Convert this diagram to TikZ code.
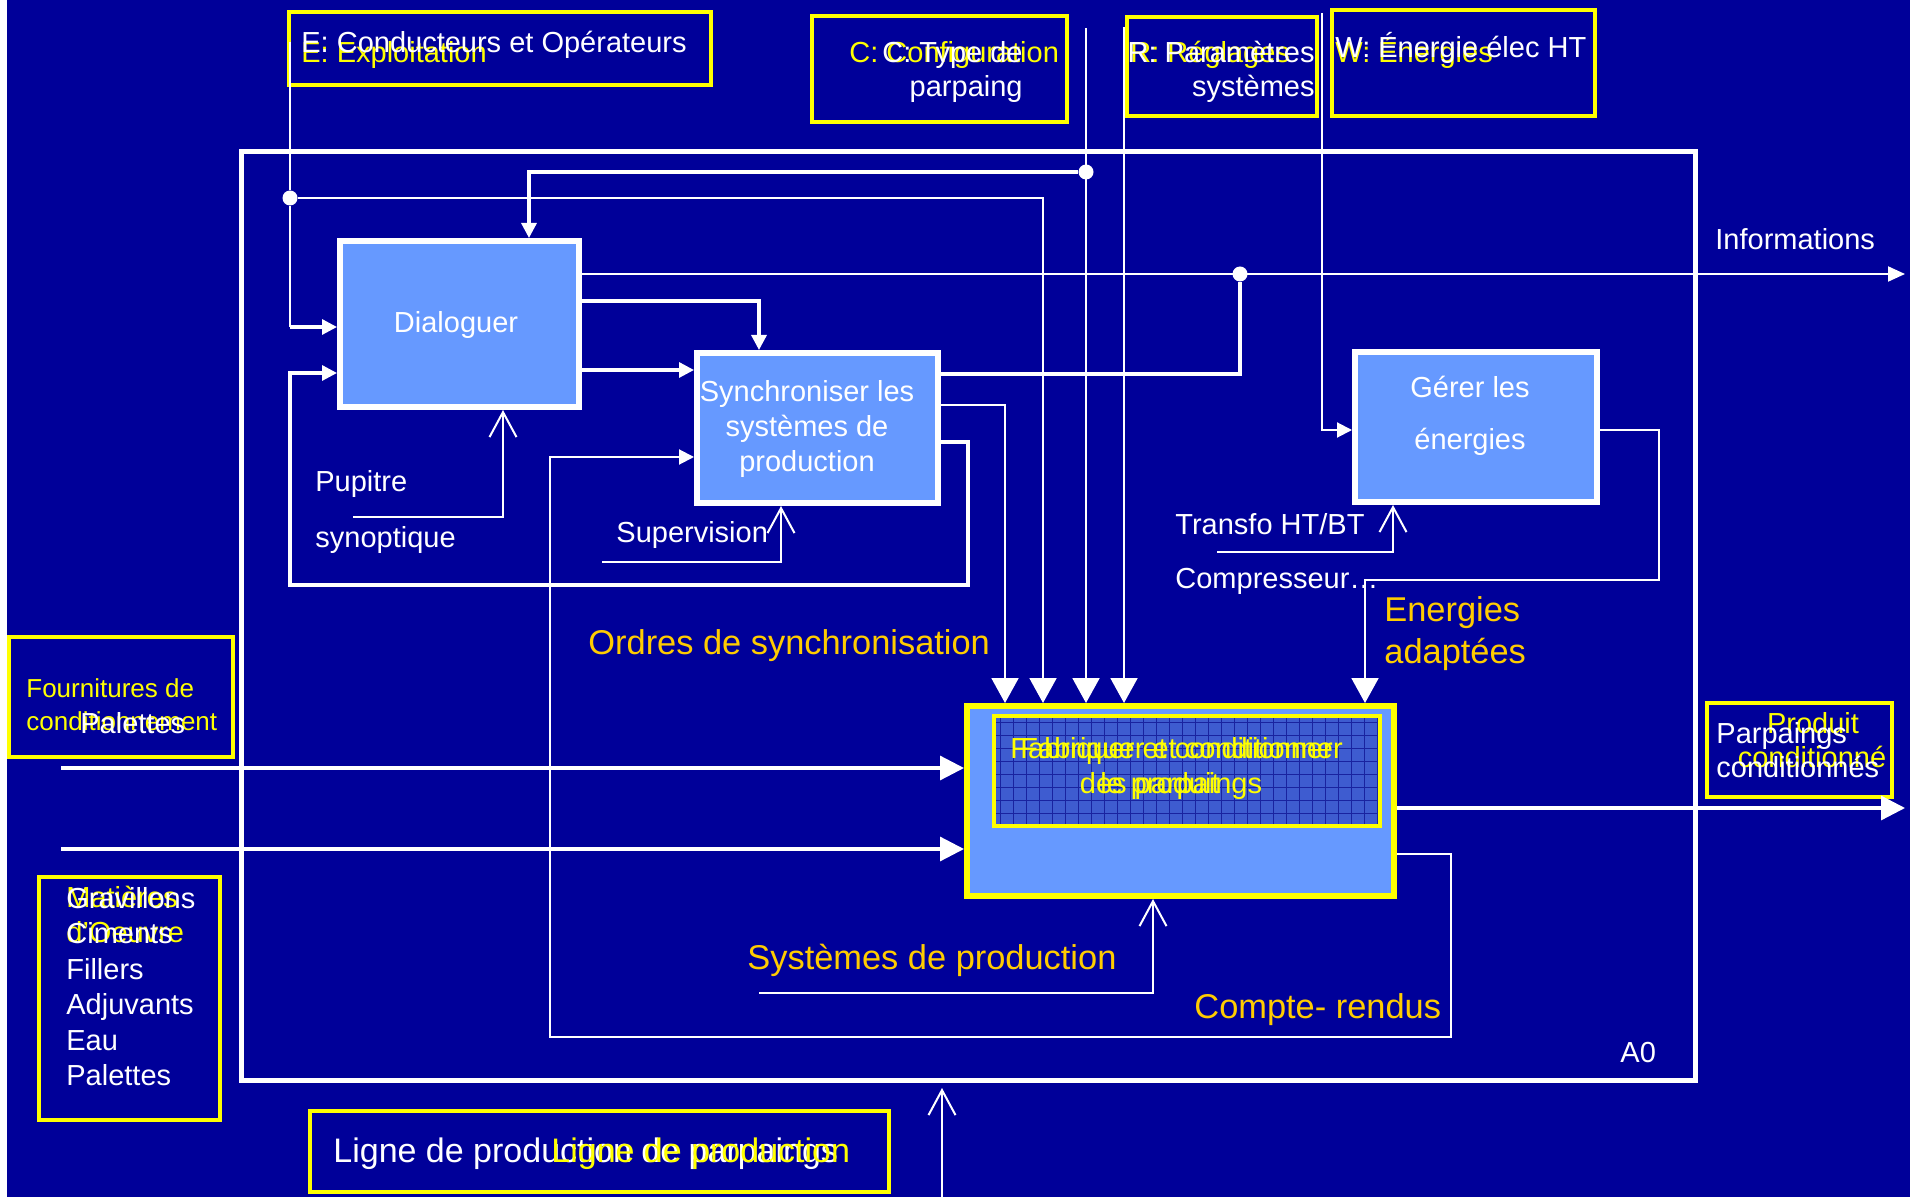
\documentclass[tikz,border=0pt]{standalone}
\usepackage{fontspec}
\setmainfont{Liberation Sans}
\usetikzlibrary{arrows.meta,fit}
\definecolor{bgblue}{RGB}{0,0,153}
\definecolor{boxblue}{RGB}{102,153,255}
\definecolor{tagyellow}{RGB}{255,255,0}
\definecolor{flowamber}{RGB}{255,204,0}
\definecolor{meshfill}{RGB}{62,92,208}
\definecolor{meshline}{RGB}{25,35,160}

\begin{document}
\begin{tikzpicture}[x=0.5pt,y=-0.5pt,
  every node/.style={inner sep=0pt},
  proc/.style={draw=white,line width=3pt,fill=boxblue,inner sep=0pt},
  tagbox/.style={draw=tagyellow,line width=2pt,inner sep=0pt},
  lab/.style={anchor=base west,font=\fontsize{14.5}{17}\selectfont},
  wl/.style={lab,text=white},
  yl/.style={lab,text=tagyellow},
  ol/.style={anchor=base west,font=\fontsize{17.2}{20}\selectfont,text=flowamber},
  wire/.style={draw=white,line width=1pt},
  bus/.style={draw=white,line width=1.6pt},
  junction/.style={circle,fill=white,minimum size=7.5pt,inner sep=0pt},
  tipS/.style={-{Triangle[length=7.5pt,width=7.5pt]}},
  tipC/.style={-{Triangle[length=12.5pt,width=13.5pt]}},
  tipI/.style={-{Triangle[length=12pt,width=12pt]}},
  tipO/.style={-{Triangle[length=8.5pt,width=7.5pt]}},
  tipM/.style={-{Straight Barb[length=12.5pt,width=13.5pt]}},
]
% page
\fill[bgblue] (0,0) rectangle (1910,1197);
\fill[white] (0,0) rectangle (7,1197);
\useasboundingbox (0,0) rectangle (1910,1197);

% A0 frame
\node[fit={(241,152) (1695,1080)},draw=white,line width=2.5pt] (frame) {};

% activities
\node[proc,fit={(340,241) (579,407)}] (dlg) {};
\node[proc,fit={(697,353) (938,503)}] (syn) {};
\node[proc,fit={(1355,352) (1597,502)}] (ger) {};
\node[fit={(967,706) (1394,896)},draw=tagyellow,line width=3pt,fill=boxblue] (fab) {};
\begin{scope}
  \clip (994,716) rectangle (1380,826);
  \fill[meshfill] (994,716) rectangle (1380,826);
  \foreach \gx in {1000,1013,...,1380} \draw[meshline,line width=0.35pt] (\gx,716) -- (\gx,826);
  \foreach \gy in {722,735,...,826} \draw[meshline,line width=0.35pt] (994,\gy) -- (1380,\gy);
\end{scope}
\node[fit={(994,716) (1380,826)},draw=tagyellow,line width=2pt] (fabIn) {};

% label boxes
\node[tagbox,fit={(289,12) (711,85)}] (tagE) {};
\node[tagbox,fit={(812,16) (1067,122)}] (tagC) {};
\node[tagbox,fit={(1127,17) (1317,116)}] (tagR) {};
\node[tagbox,fit={(1332,10) (1595,116)}] (tagW) {};
\node[tagbox,fit={(9,637) (233,757)}] (tagF) {};
\node[tagbox,fit={(39,877) (220,1120)}] (tagM) {};
\node[tagbox,fit={(310,1111) (889,1192)}] (tagL) {};
\node[tagbox,fit={(1707,703) (1892,797)}] (tagP) {};

% junctions
\node[junction] (eDot) at (290,198) {};
\node[junction] (cDot) at (1086,172) {};
\node[junction] (iDot) at (1240,274) {};

% named points
\coordinate (eTop) at (290,42);
\coordinate (cTop) at (1086,28);
\coordinate (rTop) at (1124,27);
\coordinate (wTop) at (1322,13);
\coordinate (eIn) at (290,327);
\coordinate (eBend) at (1043,198);
\coordinate (cBend) at (529,172);
\coordinate (infoEnd) at (1905,274);
\coordinate (iBend) at (1240,374);
\coordinate (sTopBend) at (759,301);
\coordinate (dsY) at (0,370);
\coordinate (fb1) at (968,442);
\coordinate (fb2) at (968,585);
\coordinate (fb3) at (290,585);
\coordinate (fb4) at (290,373);
\coordinate (sf) at (1005,405);
\coordinate (cr1) at (1451,854);
\coordinate (cr2) at (1451,1037);
\coordinate (cr3) at (550,1037);
\coordinate (cr4) at (550,457);
\coordinate (wB) at (1322,430);
\coordinate (g1) at (1659,430);
\coordinate (g2) at (1659,580);
\coordinate (g3) at (1365,580);
\coordinate (mp1) at (353,517);
\coordinate (mp2) at (503,517);
\coordinate (ms1) at (602,562);
\coordinate (ms2) at (781,562);
\coordinate (mt1) at (1217,552);
\coordinate (mt2) at (1393,552);
\coordinate (my1) at (759,993);
\coordinate (my2) at (1153,993);
\coordinate (ml) at (942,1197);
\coordinate (mlTip) at (942,1088);
\coordinate (in1) at (61,768);
\coordinate (in2) at (61,849);
\coordinate (outP) at (1905,808);

% controls
\draw[wire] (eTop) -- (eDot);
\draw[wire] (eDot) -- (eIn);
\draw[bus,tipS] (eIn) -- (dlg.west |- eIn);
\draw[wire,tipC] (eDot) -- (eBend) -- (eBend |- fab.north);
\draw[wire,tipC] (cTop) -- (cTop |- fab.north);
\draw[bus,tipS] (cDot) -- (cBend) -- (cBend |- dlg.north);
\draw[wire,tipC] (rTop) -- (rTop |- fab.north);
\draw[wire,tipS] (wTop) -- (wB) -- (ger.west |- wB);

% flows between activities
\draw[wire,tipO] (dlg.east |- infoEnd) -- (infoEnd);
\draw[bus] (syn.east |- iBend) -- (iBend) -- (iDot);
\draw[bus,tipS] (dlg.east |- sTopBend) -- (sTopBend) -- (sTopBend |- syn.north);
\draw[bus,tipS] (dlg.east |- dsY) -- (syn.west |- dsY);
\draw[bus,tipS] (syn.east |- fb1) -- (fb1) -- (fb2) -- (fb3) -- (fb4) -- (dlg.west |- fb4);
\draw[wire,tipC] (syn.east |- sf) -- (sf) -- (sf |- fab.north);
\draw[wire,tipS] (fab.east |- cr1) -- (cr1) -- (cr2) -- (cr3) -- (cr4) -- (syn.west |- cr4);
\draw[wire,tipC] (ger.east |- g1) -- (g1) -- (g2) -- (g3) -- (g3 |- fab.north);

% inputs and outputs of the line
\draw[bus,tipI] (in1) -- (fab.west |- in1);
\draw[bus,tipI] (in2) -- (fab.west |- in2);
\draw[bus,tipI] (fab.east |- outP) -- (outP);

% mechanisms
\draw[wire,tipM] (mp1) -- (mp2) -- (mp2 |- dlg.south);
\draw[wire,tipM] (ms1) -- (ms2) -- (ms2 |- syn.south);
\draw[wire,tipM] (mt1) -- (mt2) -- (mt2 |- ger.south);
\draw[wire,tipM] (my1) -- (my2) -- (my2 |- fab.south);
\draw[wire,tipM] (ml) -- (mlTip);

% activity texts
\node[wl,anchor=base] (tDlg) at (456,333) {Dialoguer};
\node[wl,anchor=base] (tSyn1) at (807,402) {Synchroniser les};
\node[wl,anchor=base] (tSyn2) at (807,437) {systèmes de};
\node[wl,anchor=base] (tSyn3) at (807,472) {production};
\node[wl,anchor=base] (tGer1) at (1470,398) {Gérer les};
\node[wl,anchor=base] (tGer2) at (1470,450) {énergies};
\node[yl] (tFab1) at (1010,758) {Fabriquer et conditionner};
\node[yl] (tFab2) at (1020,758) {Fabriquer et conditionner};
\node[yl,anchor=base] (tFab3) at (1171,793) {des parpaings};
\node[yl,anchor=base] (tFab4) at (1160,793) {le produit};

% control labels
\node[yl] (tE2) at (301,63) {E: Exploitation};
\node[wl] (tE1) at (301,53) {E: Conducteurs et Opérateurs};
\node[yl] (tC2) at (849,63) {C: Configuration};
\node[wl,anchor=base east] (tC1) at (1023,63) {C: Type de};
\node[wl,anchor=base east] (tC3) at (1023,97) {parpaing};
\node[yl] (tR2) at (1130,63) {R: Réglages};
\node[wl,anchor=base east] (tR1) at (1315,63) {R: Paramètres};
\node[wl,anchor=base east] (tR3) at (1315,97) {systèmes};
\node[yl] (tW2) at (1335,63) {W: Énergies};
\node[wl] (tW1) at (1335,58) {W: Énergie élec HT};

% mechanism labels
\node[wl] (tPup1) at (315,492) {Pupitre};
\node[wl] (tPup2) at (315,547) {synoptique};
\node[wl] (tSup) at (616,543) {Supervision};
\node[wl] (tTr) at (1175,535) {Transfo HT/BT};
\node[wl] (tCo) at (1175,588) {Compresseur…};

% flow labels
\node[wl] (tInfo) at (1715,250) {Informations};
\node[ol] (tOrd) at (588,654) {Ordres de synchronisation};
\node[ol] (tEn1) at (1384,621) {Energies};
\node[ol] (tEn2) at (1384,663) {adaptées};
\node[ol] (tSys) at (747,969) {Systèmes de production};
\node[ol] (tCR) at (1194,1018) {Compte- rendus};
\node[wl] (tA0) at (1620,1062) {A0};

% input labels
\node[anchor=base west,font=\fontsize{13}{15}\selectfont,text=tagyellow] (tF1) at (26,697) {Fournitures de};
\node[anchor=base west,font=\fontsize{13}{15}\selectfont,text=tagyellow] (tF2) at (26,730) {conditionnement};
\node[wl] (tF3) at (80,733) {Palettes};
\node[yl] (tM1) at (66,907) {Matières};
\node[yl] (tM2) at (66,942) {d'Oeuvre};
\node[wl] (tM3) at (66,908) {Gravillons};
\node[wl] (tM4) at (66,943) {Ciments};
\node[wl] (tM5) at (66,979) {Fillers};
\node[wl] (tM6) at (66,1014) {Adjuvants};
\node[wl] (tM7) at (66,1050) {Eau};
\node[wl] (tM8) at (66,1085) {Palettes};

% mechanism and output boxes
\node[anchor=base west,font=\fontsize{17}{20}\selectfont,text=white] (tL1) at (333,1162) {Ligne de production de parpaings};
\node[anchor=base west,font=\fontsize{17}{20}\selectfont,text=tagyellow] (tL2) at (551,1162) {Ligne de production};
\node[yl,anchor=base] (tP3) at (1813,733) {Produit};
\node[yl,anchor=base] (tP4) at (1812,767) {conditionné};
\node[wl] (tP1) at (1716,743) {Parpaings};
\node[wl] (tP2) at (1716,777) {conditionnés};
\end{tikzpicture}
\end{document}
